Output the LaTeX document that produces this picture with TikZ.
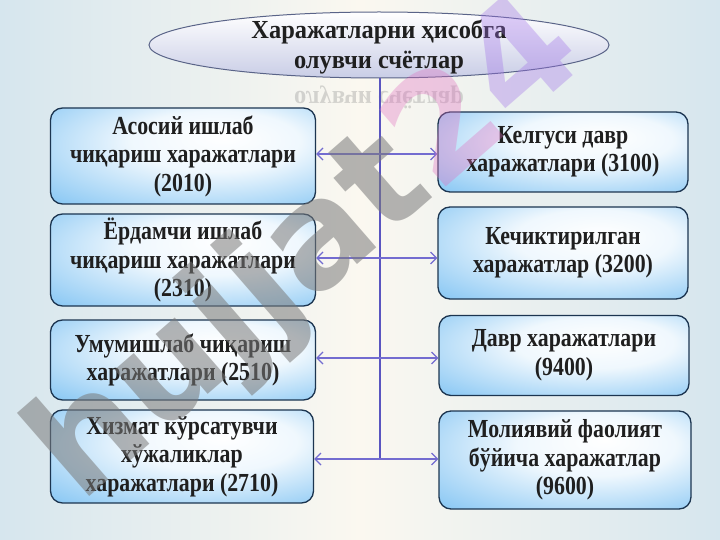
\documentclass[tikz,border=0pt]{standalone}
\usepackage{fontspec}
\setmainfont{Liberation Serif}
\newfontfamily\boxfont[FakeStretch=0.84]{Liberation Serif}
\newfontfamily\titlefont[FakeStretch=0.94]{Liberation Serif}
\newfontfamily\wmfont{DejaVu Sans}
\usetikzlibrary{arrows.meta,shapes.geometric}
\definecolor{bgside}{HTML}{D6E6EE}
\definecolor{bgmid}{HTML}{FBF8F0}
\definecolor{boxblue}{HTML}{3AA2EC}
\definecolor{boxedge}{HTML}{1C3550}
\definecolor{linecol}{HTML}{5A55C0}
\definecolor{arrcol}{HTML}{736CD0}
\definecolor{elledge}{HTML}{5A6488}
\definecolor{ellbot}{HTML}{C9CDE6}
\definecolor{wmgray}{HTML}{7A7A7A}
\definecolor{wmpink}{HTML}{E070C0}
\definecolor{wmviolet}{HTML}{A070E8}
\pgfdeclareradialshading{boxshade}{\pgfpoint{8bp}{10bp}}{%
  color(0bp)=(white); color(16bp)=(white!92!boxblue); color(38bp)=(white!45!boxblue);
  color(56bp)=(boxblue); color(70bp)=(boxblue)}
\tikzset{
  acct/.style={draw=boxedge, line width=1.3pt, rounded corners=12pt,
    shading=boxshade,
    align=center, font=\boxfont\bfseries\fontsize{26}{28.5}\selectfont,
    text=black!88, inner sep=2pt},
  link/.style={draw=arrcol, line width=1.8pt,
    {Straight Barb[length=6pt,width=12pt,line width=1.2pt]}-{Straight Barb[length=6pt,width=12pt,line width=1.2pt]}},
  trunk/.style={draw=linecol, line width=2pt},
  wmark/.style={rotate=41, font=\wmfont\bfseries\fontsize{145}{145}\selectfont, inner sep=0pt},
}
\begin{document}
\begin{tikzpicture}[x=1pt,y=-1pt]
\useasboundingbox (0,0) rectangle (720,540);
\shade[left color=bgside, right color=bgside, middle color=bgmid] (0,0) rectangle (720,540);

% title ellipse and its reflection
\node[ellipse, draw=elledge, line width=1pt, top color=white, bottom color=ellbot,
  minimum width=460pt, minimum height=66pt, inner sep=0pt] (top) at (379,45) {};
\node[align=center, font=\titlefont\bfseries\fontsize{26}{29.5}\selectfont, text=black!88] (title) at (379,47)
  {Харажатларни ҳисобга\\олувчи счётлар};
\node[yscale=-1, font=\titlefont\bfseries\fontsize{26}{29}\selectfont, text=gray, opacity=0.3] (refl) at (379,97)
  {олувчи счётлар};

% boxes
\node[acct, minimum width=265pt, minimum height=96pt] (L1) at (183,156)
  {Асосий ишлаб\\чиқариш харажатлари\\(2010)};
\node[acct, minimum width=265pt, minimum height=92pt] (L2) at (183,260)
  {Ёрдамчи ишлаб\\чиқариш харажатлари\\(2310)};
\node[acct, minimum width=265pt, minimum height=80pt] (L3) at (183,360)
  {Умумишлаб чиқариш\\харажатлари (2510)};
\node[acct, minimum width=263pt, minimum height=93pt] (L4) at (182,456.5)
  {Хизмат кўрсатувчи\\хўжаликлар\\харажатлари (2710)};
\node[acct, minimum width=250pt, minimum height=80pt] (R1) at (563,152)
  {Келгуси давр\\харажатлари (3100)};
\node[acct, minimum width=250pt, minimum height=92pt] (R2) at (563,253)
  {Кечиктирилган\\харажатлар (3200)};
\node[acct, minimum width=250pt, minimum height=80pt] (R3) at (564,355.5)
  {Давр харажатлари\\(9400)};
\node[acct, minimum width=252pt, minimum height=98pt] (R4) at (565,460)
  {Молиявий фаолият\\бўйича харажатлар\\(9600)};

% trunk
\coordinate (bottom) at (380,459);
\draw[trunk] (top.south -| bottom) -- (bottom);

% links
\draw[link] (L1.east |- 0,154) -- (R1.west |- 0,154);
\draw[link] (L2.east |- 0,258) -- (R2.west |- 0,258);
\draw[link] (L3.east |- 0,358) -- (R3.west |- 0,358);
\draw[link] (L4.east |- 0,459) -- (R4.west |- 0,459);

% watermark
\node[wmark, anchor=base west, text=wmgray, text opacity=0.55] (wm1) at (80,505) {hujjat};
\node[wmark, anchor=base west, text=wmpink, text opacity=0.35] (wm2) at (wm1.base east) {2};
\node[wmark, anchor=base west, text=wmviolet, text opacity=0.35] (wm3) at (wm2.base east) {4};
\end{tikzpicture}
\end{document}
